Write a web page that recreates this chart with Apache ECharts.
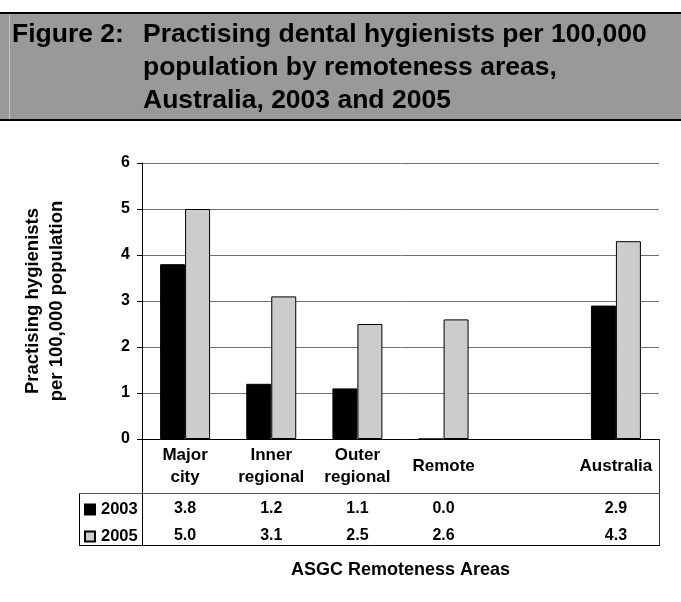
<!DOCTYPE html>
<html>
<head>
<meta charset="utf-8">
<script src="https://cdn.jsdelivr.net/npm/echarts@6/dist/echarts.min.js"></script>
<style>
    html, body { margin: 0; padding: 0; background: #fff; }
    #chart { width: 681px; height: 602px; }
</style>
</head>
<body>
<div id="chart"></div>
<script>
// data
var areas = ['Major\ncity', 'Inner\nregional', 'Outer\nregional', 'Remote', '', 'Australia'];
var years = ['2003', '2005'];
var val2003 = [3.8, 1.2, 1.1, 0.0, null, 2.9];
var val2005 = [5.0, 3.1, 2.5, 2.6, null, 4.3];
var yTicks = [0, 1, 2, 3, 4, 5, 6];

var FONT = 'Liberation Sans, Arial, sans-serif';

// plot box (pixels)
var gLeft = 142, gRight = 659, gTop = 163, gBottom = 439;
var rowLine = 493, tableBottom = 545, tableLeft = 79;

function fmt(v) {
    return v === null ? '' : v.toFixed(1);
}

var dom = document.getElementById('chart');
var myChart = echarts.init(dom, null, { renderer: 'canvas' });

var textStyle = { fontFamily: FONT, fontWeight: 'bold', fontSize: 16, color: '#000' };

function valueAxis(data, margin) {
    return {
        type: 'category',
        position: 'bottom',
        data: data,
        axisLine: { show: false },
        axisTick: { show: false },
        axisLabel: Object.assign({ margin: margin, verticalAlign: 'middle', interval: 0 }, textStyle)
    };
}

var titleStyle = { fontFamily: FONT, fontWeight: 'bold', fontSize: 26.5, lineHeight: 33, color: '#000' };

var option = {
    animation: false,
    backgroundColor: '#fff',
    title: [
        { text: 'Figure 2:', left: 12, top: 18, padding: 0, textStyle: titleStyle },
        {
            text: 'Practising dental hygienists per 100,000\npopulation by remoteness areas,\nAustralia, 2003 and 2005',
            left: 143, top: 18, padding: 0,
            textStyle: titleStyle
        }
    ],
    graphic: [
        { type: 'rect', z: -10, shape: { x: 0, y: 12, width: 681, height: 108 }, style: { fill: '#999999' } },
        { type: 'line', z: -9, shape: { x1: 0, y1: 13, x2: 681, y2: 13 }, style: { stroke: '#000', lineWidth: 2 } },
        { type: 'line', z: -9, shape: { x1: 0, y1: 120, x2: 681, y2: 120 }, style: { stroke: '#000', lineWidth: 2 } },
        { type: 'line', z: -9, shape: { x1: 9.5, y1: 14, x2: 9.5, y2: 119 }, style: { stroke: '#c4c4c4', lineWidth: 1 } },
        // data table borders
        { type: 'line', shape: { x1: gLeft + 0.5, y1: gBottom, x2: gLeft + 0.5, y2: tableBottom }, style: { stroke: '#000', lineWidth: 1 } },
        { type: 'line', shape: { x1: gRight + 0.5, y1: gBottom, x2: gRight + 0.5, y2: tableBottom }, style: { stroke: '#333', lineWidth: 1 } },
        { type: 'line', shape: { x1: tableLeft + 0.5, y1: rowLine, x2: tableLeft + 0.5, y2: tableBottom }, style: { stroke: '#000', lineWidth: 1 } },
        { type: 'line', shape: { x1: tableLeft, y1: rowLine + 0.5, x2: gRight + 1, y2: rowLine + 0.5 }, style: { stroke: '#555', lineWidth: 1 } },
        { type: 'line', shape: { x1: tableLeft, y1: tableBottom + 0.5, x2: gRight + 1, y2: tableBottom + 0.5 }, style: { stroke: '#000', lineWidth: 1 } }
    ],
    legend: {
        data: years,
        orient: 'vertical',
        left: 84, top: 501,
        padding: 0,
        itemWidth: 10, itemHeight: 10,
        itemGap: 10,
        icon: 'rect',
        textStyle: Object.assign({}, textStyle, { fontSize: 16.5, padding: [0, 0, 0, 1] })
    },
    grid: {
        left: gLeft, right: 681 - gRight, top: gTop, bottom: 602 - gBottom,
        containLabel: false
    },
    xAxis: [
        {
            type: 'category',
            data: areas,
            name: 'ASGC Remoteness Areas',
            nameLocation: 'middle',
            nameGap: 131,
            nameTextStyle: Object.assign({}, textStyle, { fontSize: 18, verticalAlign: 'middle' }),
            axisLine: { lineStyle: { color: '#000', width: 1 } },
            axisTick: { show: false },
            axisLabel: Object.assign({ margin: 27, verticalAlign: 'middle', lineHeight: 22, interval: 0 }, textStyle, { fontSize: 17 })
        },
        valueAxis(val2003.map(fmt), 70),
        valueAxis(val2005.map(fmt), 97)
    ],
    yAxis: {
        type: 'value',
        min: yTicks[0],
        max: yTicks[yTicks.length - 1],
        interval: 1,
        name: 'Practising hygienists\nper 100,000 population',
        nameLocation: 'middle',
        nameRotate: 90,
        nameGap: 73,
        nameTextStyle: Object.assign({}, textStyle, { fontSize: 18.5, lineHeight: 24 }),
        axisLine: { show: true, lineStyle: { color: '#000', width: 1 } },
        axisTick: { show: true, length: 5, lineStyle: { color: '#000' } },
        axisLabel: Object.assign({ margin: 12 }, textStyle),
        splitLine: { lineStyle: { color: '#707070', width: 1 } }
    },
    series: [
        {
            name: years[0],
            type: 'bar',
            data: val2003,
            barGap: '0%',
            barCategoryGap: '42%',
            itemStyle: { color: '#000000', borderColor: '#000', borderWidth: 1 }
        },
        {
            name: years[1],
            type: 'bar',
            data: val2005,
            itemStyle: { color: '#cccccc', borderColor: '#000', borderWidth: 1 }
        }
    ]
};

myChart.setOption(option);
window.addEventListener('resize', myChart.resize);
</script>
</body>
</html>
